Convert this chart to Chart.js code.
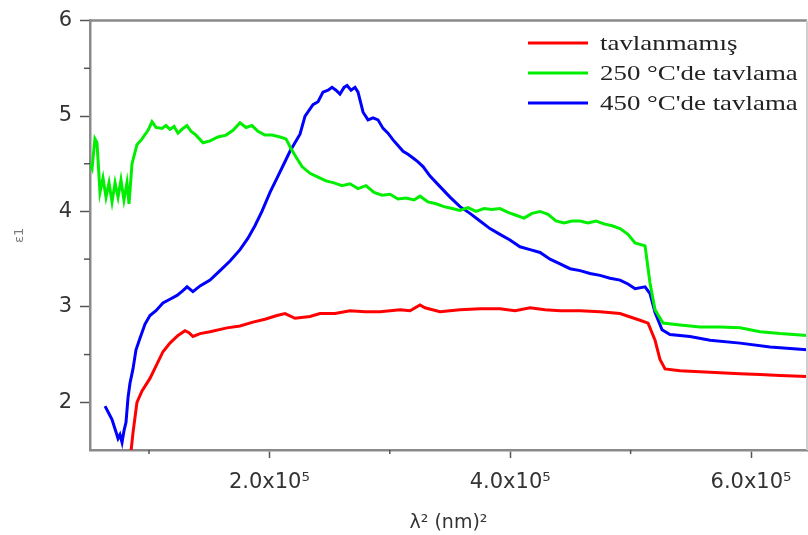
<!DOCTYPE html>
<html><head><meta charset="utf-8">
<script src="https://cdn.jsdelivr.net/npm/chart.js@4/dist/chart.umd.min.js"></script>
<style>html,body{margin:0;padding:0;background:#fff;}#wrap{width:808px;height:535px;}</style>
</head><body><div id="wrap"><canvas id="c" width="808" height="535"></canvas></div>
<script>
const seriesNames = ["tavlanmamış", "250 °C'de tavlama", "450 °C'de tavlama"];
const seriesColors = ["#ff0000", "#00ee00", "#0000ff"];

const xTickValues = [200000, 400000, 600000];
const xTickLabels = ["2.0x10⁵", "4.0x10⁵", "6.0x10⁵"];
const xMinorValues = [100000, 300000, 500000];
const yTickValues = [2, 3, 4, 5, 6];
const yMinorValues = [2.5, 3.5, 4.5, 5.5];

const redX = [85000,86700,90000,94200,100800,106600,111600,117400,124100,129900,133200,136500,142400,150700,164800,175600,186400,196300,206300,213000,221300,233700,242000,254500,266900,279400,291900,308500,316800,325100,329200,341700,358300,374900,391500,404000,416500,428900,441400,458000,474600,491200,507800,514500,520300,524400,528600,541000,557700,574300,590900,607500,624100,646500];
const redY = [1.48,1.68,2.0,2.12,2.25,2.4,2.53,2.62,2.7,2.75,2.73,2.69,2.72,2.74,2.78,2.8,2.84,2.87,2.91,2.93,2.88,2.9,2.93,2.93,2.96,2.95,2.95,2.97,2.96,3.02,2.99,2.95,2.97,2.98,2.98,2.96,2.99,2.97,2.96,2.96,2.95,2.93,2.86,2.83,2.65,2.45,2.35,2.33,2.32,2.31,2.30,2.29,2.28,2.27];

const greenX = [51000,52700,55100,56800,59300,61800,64300,66800,69300,71800,74300,76700,79200,81700,83400,85900,90000,94200,99200,102500,105800,110800,114100,117400,120800,124100,128200,131600,134900,139000,144900,150700,157300,164000,169800,175600,180600,185500,190500,196300,202200,208800,213800,217900,222100,227100,233700,240400,247000,253700,260300,266900,273600,280200,286900,293500,300200,306800,313500,320100,325100,331700,338400,345000,351700,358300,364900,371600,378200,384900,391500,398200,404800,411500,418100,424800,431400,438000,444700,451300,458000,464600,471300,477900,484600,491200,497800,503700,512000,516100,520300,526900,541000,557700,574300,590900,607500,624100,646500];
const greenY = [4.5,4.45,4.76,4.72,4.2,4.35,4.15,4.3,4.1,4.3,4.15,4.33,4.12,4.3,4.08,4.5,4.7,4.76,4.85,4.94,4.88,4.87,4.9,4.86,4.89,4.82,4.87,4.9,4.84,4.8,4.72,4.74,4.78,4.8,4.85,4.93,4.88,4.9,4.84,4.8,4.8,4.78,4.76,4.66,4.57,4.47,4.40,4.36,4.32,4.3,4.27,4.29,4.24,4.27,4.2,4.17,4.18,4.13,4.14,4.12,4.16,4.1,4.08,4.05,4.03,4.01,4.04,4.0,4.03,4.02,4.03,3.99,3.96,3.93,3.98,4.0,3.97,3.9,3.88,3.9,3.9,3.88,3.9,3.87,3.85,3.82,3.76,3.67,3.64,3.25,2.97,2.83,2.81,2.79,2.79,2.78,2.74,2.72,2.70];

const blueX = [63500,66800,69300,71800,74300,75900,77600,79200,80900,82600,84200,86700,89200,92500,96700,100800,105800,111600,117400,123300,128200,131600,136500,142400,150700,159000,167300,175600,182200,188000,193800,200500,206300,212100,217100,225400,229600,236200,240400,244500,248700,252000,255300,258600,262000,264500,267800,271100,273600,277800,281900,286100,290200,294400,298500,302700,306800,311000,315100,319300,323400,327600,333400,341700,350000,358300,366600,374900,383200,391500,399800,408100,416500,424800,433100,441400,449700,458000,466300,474600,482900,491200,497800,503700,512000,516100,520300,526100,532700,549300,566000,590900,615800,646500];
const blueY = [1.96,1.88,1.82,1.72,1.62,1.66,1.58,1.7,1.79,2.05,2.2,2.35,2.55,2.67,2.82,2.91,2.96,3.04,3.08,3.12,3.17,3.21,3.16,3.22,3.28,3.38,3.48,3.6,3.72,3.85,4.0,4.2,4.35,4.5,4.63,4.81,5.0,5.12,5.15,5.25,5.27,5.3,5.27,5.23,5.3,5.32,5.27,5.3,5.25,5.04,4.96,4.98,4.96,4.87,4.82,4.75,4.69,4.63,4.6,4.56,4.52,4.47,4.37,4.26,4.15,4.05,3.98,3.9,3.82,3.76,3.7,3.63,3.6,3.57,3.5,3.45,3.4,3.38,3.35,3.33,3.3,3.28,3.24,3.19,3.21,3.14,2.94,2.76,2.71,2.69,2.65,2.62,2.58,2.55];

const xMin = 51000, xMax = 646500, yMin = 1.5, yMax = 6;

function toPoints(xs, ys) { return xs.map((v, i) => ({x: v, y: ys[i]})); }

const axisColor = '#8a8a8a';
const tickColor = '#333333';

const extrasPlugin = {
  id: 'extras',
  afterDraw(chart) {
    const {ctx, chartArea: a, scales: {x, y}} = chart;
    ctx.save();
    ctx.lineCap = 'butt';
    ctx.strokeStyle = axisColor; ctx.lineWidth = 2.5;
    ctx.beginPath(); ctx.moveTo(a.left - 1, a.top); ctx.lineTo(a.right, a.top); ctx.stroke();
    ctx.strokeStyle = '#cfcfcf'; ctx.lineWidth = 2;
    ctx.beginPath(); ctx.moveTo(a.right, a.top); ctx.lineTo(a.right, a.bottom); ctx.stroke();
    ctx.strokeStyle = '#555'; ctx.lineWidth = 1.5;
    yMinorValues.forEach(v => { const py = y.getPixelForValue(v); ctx.beginPath(); ctx.moveTo(a.left - 6, py); ctx.lineTo(a.left, py); ctx.stroke(); });
    xMinorValues.forEach(v => { const px = x.getPixelForValue(v); ctx.beginPath(); ctx.moveTo(px, a.bottom); ctx.lineTo(px, a.bottom + 4); ctx.stroke(); });
    // legend
    const lx0 = 528, lx1 = 588, tx = 600, ly = [43, 73, 103];
    seriesNames.forEach((name, i) => {
      ctx.strokeStyle = seriesColors[i]; ctx.lineWidth = 3;
      ctx.beginPath(); ctx.moveTo(lx0, ly[i]); ctx.lineTo(lx1, ly[i]); ctx.stroke();
      ctx.save();
      ctx.translate(tx, ly[i]);
      ctx.scale(1.28, 1);
      ctx.fillStyle = '#222';
      ctx.font = '21px "Liberation Serif", "Times New Roman", serif';
      ctx.textBaseline = 'middle';
      ctx.fillText(name, 0, 1);
      ctx.restore();
    });
    ctx.restore();
  }
};

const datasets = [
  {label: seriesNames[0], data: toPoints(redX, redY)},
  {label: seriesNames[1], data: toPoints(greenX, greenY)},
  {label: seriesNames[2], data: toPoints(blueX, blueY)}
].map((d, i) => Object.assign(d, {borderColor: seriesColors[i], backgroundColor: seriesColors[i], borderWidth: 3, pointRadius: 0, tension: 0, showLine: true, fill: false}));

new Chart(document.getElementById('c'), {
  type: 'scatter',
  data: {datasets},
  plugins: [extrasPlugin],
  options: {
    responsive: false,
    animation: false,
    devicePixelRatio: 1,
    layout: {padding: {top: 18, right: 1, left: 0, bottom: 0}},
    plugins: {legend: {display: false}, tooltip: {enabled: false}},
    scales: {
      x: {
        type: 'linear', min: xMin, max: xMax,
        afterBuildTicks: s => { s.ticks = xTickValues.map(v => ({value: v})); },
        afterFit: s => { s.height = 85; },
        ticks: {
          callback: (v, i) => xTickLabels[i],
          color: tickColor, padding: 12, maxRotation: 0,
          font: {family: '"DejaVu Sans", sans-serif', size: 21}
        },
        grid: {drawOnChartArea: false, color: '#555', tickLength: 8, tickWidth: 1.5},
        border: {color: axisColor, width: 2.5},
        title: {display: true, text: 'λ² (nm)²', color: '#333', padding: {top: 0, bottom: 1},
          font: {family: '"DejaVu Sans", sans-serif', size: 19}}
      },
      y: {
        type: 'linear', min: yMin, max: yMax,
        afterBuildTicks: s => { s.ticks = yTickValues.map(v => ({value: v})); },
        afterFit: s => { s.width = 90; },
        ticks: {
          callback: v => String(v),
          color: tickColor, padding: 8,
          font: {family: '"DejaVu Sans", sans-serif', size: 21}
        },
        grid: {drawOnChartArea: false, color: '#555', tickLength: 10, tickWidth: 1.5},
        border: {color: axisColor, width: 2.5},
        title: {display: true, text: 'ε1', color: '#777', padding: {top: 12, bottom: 0},
          font: {family: '"DejaVu Sans", sans-serif', size: 13}}
      }
    }
  }
});
</script>
</body></html>
